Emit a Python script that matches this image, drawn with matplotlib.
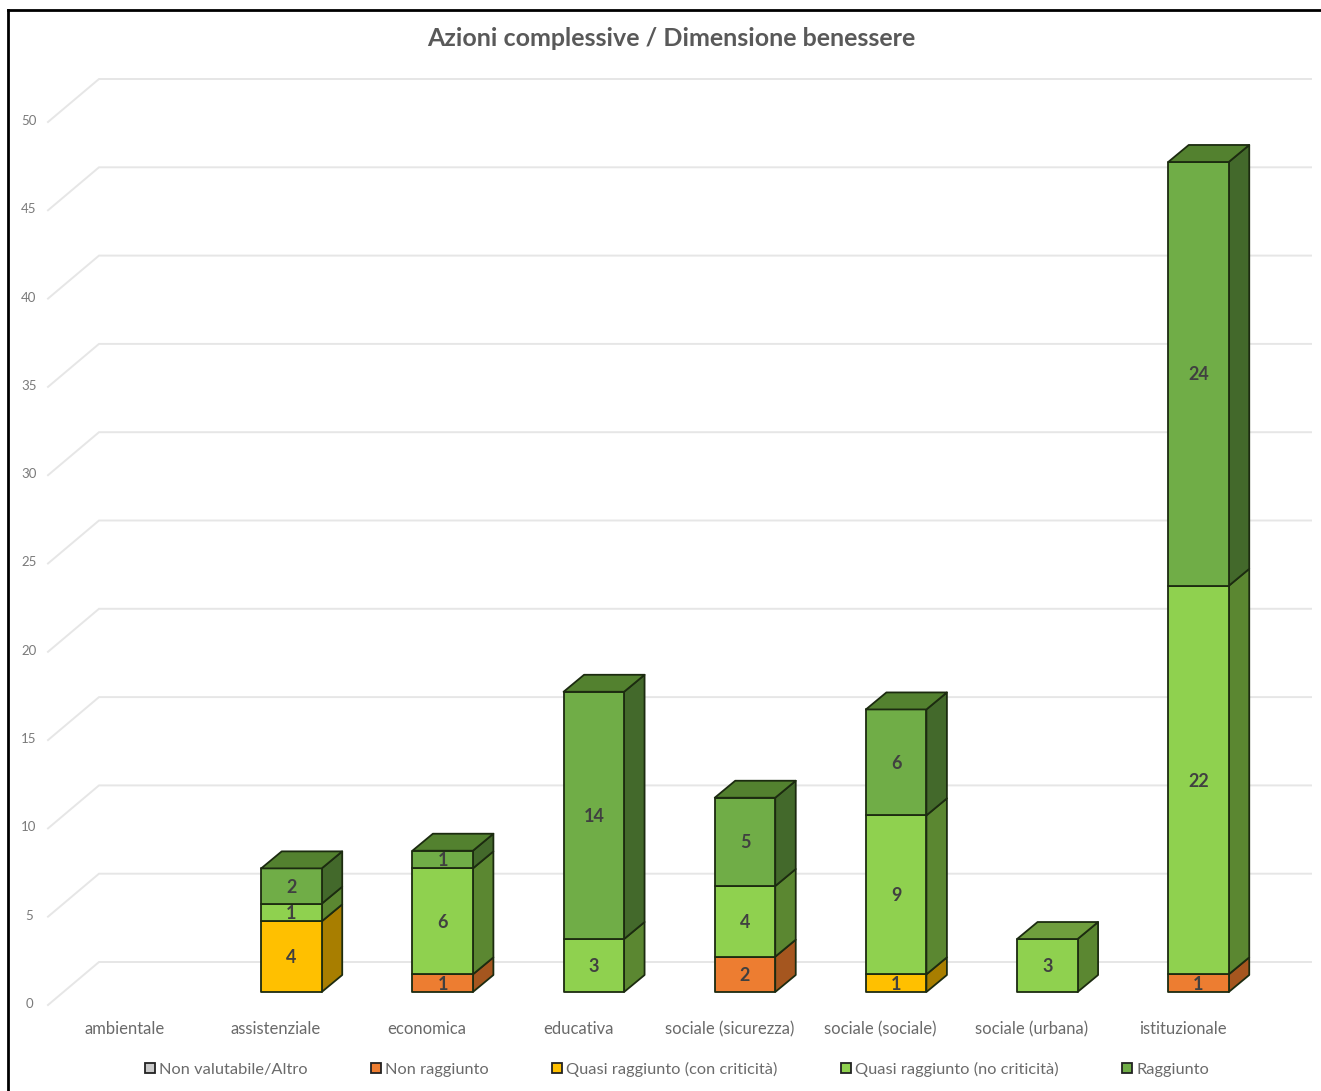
import matplotlib
matplotlib.use('Agg')
import matplotlib.pyplot as plt
from matplotlib.patches import Polygon, Patch

plt.rcParams['font.family'] = ['Lato', 'DejaVu Sans']

title = 'Azioni complessive / Dimensione benessere'
categories = ['ambientale', 'assistenziale', 'economica', 'educativa',
              'sociale (sicurezza)', 'sociale (sociale)', 'sociale (urbana)', 'istituzionale']
yticks = [0, 5, 10, 15, 20, 25, 30, 35, 40, 45, 50]

series_names = ['Non valutabile/Altro', 'Non raggiunto', 'Quasi raggiunto (con criticità)',
                'Quasi raggiunto (no criticità)', 'Raggiunto']
non_valutabile = [0, 0, 0, 0, 0, 0, 0, 0]
non_raggiunto = [0, 0, 1, 0, 2, 0, 0, 1]
quasi_con = [0, 4, 0, 0, 0, 1, 0, 0]
quasi_no = [0, 1, 6, 3, 4, 9, 3, 22]
raggiunto = [0, 2, 1, 14, 5, 6, 0, 24]
all_series = [non_valutabile, non_raggiunto, quasi_con, quasi_no, raggiunto]

front_cols = ['#A5A5A5', '#ED7D31', '#FFC000', '#8FD14F', '#70AD47']
side_cols = ['#6F6F6F', '#A5561F', '#A87E00', '#5B8731', '#43692B']
top_cols = ['#8A8A8A', '#C4682A', '#D4A000', '#6F9E3D', '#53812F']
legend_cols = ['#C9C9C9', '#ED7D31', '#FFC000', '#8FD14F', '#70AD47']
edge = '#1C2B10'

W, H = 1321, 1091
cat_px = 151.17   # pixels per category
val_px = 17.66    # pixels per unit
x0_px = 140.3     # centre of first bar
y0_px = 992.0     # bar base
bar_w = 60.5 / cat_px
dx = 20.5 / cat_px   # bar depth
dy = 17 / val_px

fig = plt.figure(figsize=(W / 100, H / 100), dpi=100)
ax = fig.add_axes([8 / W, 0, (W - 8) / W, (H - 10) / H])
ax.set_xlim((8 - x0_px) / cat_px, (W - x0_px) / cat_px)
ax.set_ylim((y0_px - H) / val_px, (y0_px - 10) / val_px)
ax.set_xticks([])
ax.set_yticks([])
for s in ['right', 'bottom']:
    ax.spines[s].set_visible(False)
for s in ['left', 'top']:
    ax.spines[s].set_linewidth(2)
    ax.spines[s].set_color('black')

# floor / wall gridlines
xf = (48 - x0_px) / cat_px
xb = (99 - x0_px) / cat_px
xr = (1311 - x0_px) / cat_px
yf = -13 / val_px
yb = 30 / val_px
for v in yticks:
    ax.plot([xf, xb, xr], [v + yf, v + yb, v + yb], color='#E6E6E6', lw=1.4, zorder=1,
            solid_joinstyle='miter')
    ax.text(xf - 19 / cat_px, v + yf + 1 / val_px, str(v), ha='center', va='center',
            fontsize=9.5, color='#7A7A7A')

# stacked 3d bars
for i in range(len(categories)):
    bottom = 0
    top_series = None
    h = 0.5 * bar_w
    for j, vals in enumerate(all_series):
        v = vals[i]
        if v == 0:
            continue
        y1 = bottom
        y2 = bottom + v
        ax.add_patch(Polygon([(i + h, y1), (i + h + dx, y1 + dy), (i + h + dx, y2 + dy), (i + h, y2)],
                             fc=side_cols[j], ec=edge, lw=1.3, zorder=3, joinstyle='round'))
        ax.add_patch(Polygon([(i - h, y1), (i + h, y1), (i + h, y2), (i - h, y2)],
                             fc=front_cols[j], ec=edge, lw=1.3, zorder=4, joinstyle='round'))
        ax.text(i, (y1 + y2) / 2 - 1 / val_px, str(v), ha='center', va='center', fontsize=13,
                fontweight='bold', color='#404040', zorder=6)
        bottom = y2
        top_series = j
    if top_series is not None:
        ax.add_patch(Polygon([(i - h, bottom), (i + h, bottom), (i + h + dx, bottom + dy), (i - h + dx, bottom + dy)],
                             fc=top_cols[top_series], ec=edge, lw=1.3, zorder=4, joinstyle='round'))

for i, c in enumerate(categories):
    ax.text(i - 15.5 / cat_px, -37 / val_px, c, ha='center', va='center', fontsize=12,
            color='#6A6A6A')

ax.text((671 - x0_px) / cat_px, (y0_px - 39) / val_px, title, ha='center', va='center',
        fontsize=18, fontweight='bold', color='#595959')

handles = [Patch(fc=legend_cols[k], ec='#222222', lw=1.3) for k in range(len(series_names))]
ax.legend(handles, series_names, ncol=5, frameon=False, loc='center',
          bbox_to_anchor=((677 - 8) / (W - 8), (H - 1069) / (H - 10)),
          fontsize=11.8, labelcolor='#6A6A6A', handlelength=0.6, handleheight=0.6,
          handletextpad=0.23, columnspacing=3.9, borderpad=0, borderaxespad=0)

fig.savefig('out.png', dpi=100)
